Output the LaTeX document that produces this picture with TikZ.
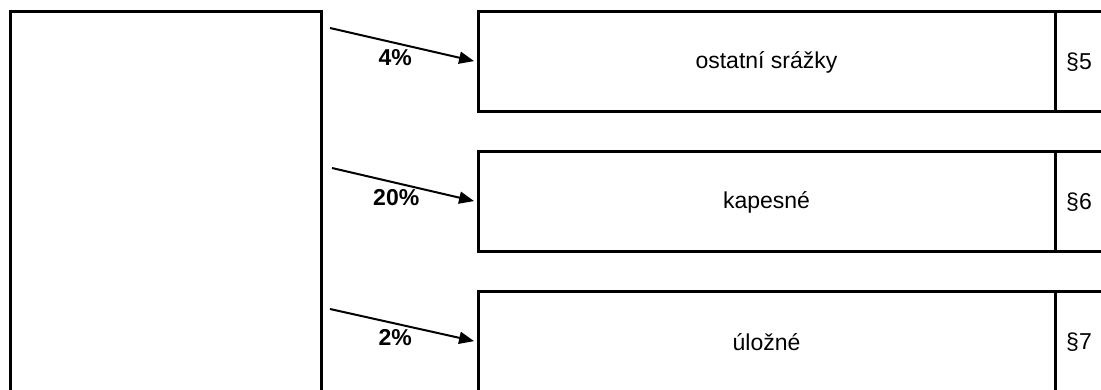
\documentclass[tikz,border=0pt]{standalone}
\usepackage{fontspec}
\setmainfont{Liberation Sans}
\usetikzlibrary{arrows.meta}
\usetikzlibrary{positioning}

\begin{document}
\begin{tikzpicture}[x=1pt,y=-1pt,
	box/.style={draw,rectangle,line width=3pt,outer sep=0pt,minimum width=577pt,minimum height=100pt,font=\fontsize{23}{27}\selectfont},
	para/.style={draw,rectangle,line width=3pt,outer sep=0pt,minimum width=48pt,minimum height=100pt,font=\fontsize{23}{27}\selectfont},
	share/.style={line width=2pt,-{Triangle[length=15pt,width=12pt]},shorten >=4pt},
	pct/.style={font=\bfseries\fontsize{23}{27}\selectfont}]
	\useasboundingbox (0,0) rectangle (1101,390);
	\node[draw,rectangle,line width=3pt,outer sep=0pt,minimum width=311pt,minimum height=400pt] (mzda) at (165.5,212) {};
	%
	\node[box] (ost) at (766.5,62) {ostatní srážky};
	\node[box] (kap) at (766.5,202) {kapesné};
	\node[box] (ulo) at (766.5,342) {úložné};
	\node[para,right=0pt of ost] (p5) {§5};
	\node[para,right=0pt of kap] (p6) {§6};
	\node[para,right=0pt of ulo] (p7) {§7};
	%
	\coordinate (a1) at (330,28);
	\coordinate (a2) at (332,168);
	\coordinate (a3) at (330,309);
	\draw[share] (a1) -- (ost.west) node[pct,below=2pt,pos=.44] (l1) {4\%};
	\draw[share] (a2) -- (kap.west) node[pct,below=2pt,pos=.44] (l2) {20\%};
	\draw[share] (a3) -- (ulo.west) node[pct,below=2pt,pos=.44] (l3) {2\%};
\end{tikzpicture}
\end{document}
